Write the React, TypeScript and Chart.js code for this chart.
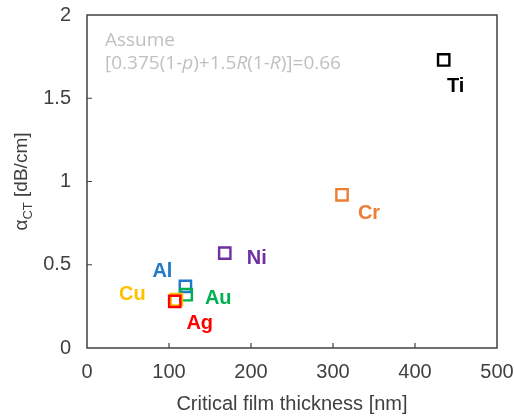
import React, { useEffect, useRef } from "react";
import { Chart, registerables } from "chart.js";

Chart.register(...registerables);

const materials = ["Ti", "Cr", "Ni", "Al", "Au", "Cu", "Ag"];
const thickness = [435, 311, 168, 120, 121, 109, 107];
const alphaCT = [1.73, 0.92, 0.57, 0.37, 0.32, 0.29, 0.28];
const colors = ["#000000", "#ED7D31", "#7030A0", "#1F78C8", "#00B050", "#FFC000", "#FF0000"];
const xTicks = [0, 100, 200, 300, 400, 500];
const yTicks = [0, 0.5, 1, 1.5, 2];
const noteLine1 = "Assume";

// label offsets in pixels relative to each point (style, not data)
const labelOffsets: Record<string, [number, number]> = {
  Ti: [12, 27],
  Cr: [27, 19],
  Ni: [32, 5],
  Al: [-23, -15],
  Au: [32, 4],
  Cu: [-44, -5],
  Ag: [25, 22],
};

const FONT = "'Liberation Sans', Arial, sans-serif";

export default function App() {
  const ref = useRef<HTMLCanvasElement | null>(null);

  useEffect(() => {
    document.body.style.margin = "0";
    const canvas = ref.current!;
    const overlay = {
      id: "overlay",
      afterDraw(chart: any) {
        const ctx = chart.ctx as CanvasRenderingContext2D;
        const xs = chart.scales.x;
        const ys = chart.scales.y;
        const a = chart.chartArea;
        ctx.save();
        // frame
        ctx.strokeStyle = "#404040";
        ctx.lineWidth = 1.5;
        ctx.strokeRect(a.left, a.top, a.right - a.left, a.bottom - a.top);
        // inner ticks
        ctx.lineWidth = 1.2;
        ctx.beginPath();
        xTicks.forEach((v) => {
          if (v === 0 || v === 500) return;
          const px = xs.getPixelForValue(v);
          ctx.moveTo(px, a.bottom);
          ctx.lineTo(px, a.bottom - 5);
        });
        yTicks.forEach((v) => {
          if (v === 0 || v === 2) return;
          const py = ys.getPixelForValue(v);
          ctx.moveTo(a.left, py);
          ctx.lineTo(a.left + 5, py);
        });
        ctx.stroke();
        // point labels
        ctx.font = `bold 20px ${FONT}`;
        ctx.textAlign = "center";
        ctx.textBaseline = "middle";
        materials.forEach((m, i) => {
          const px = xs.getPixelForValue(thickness[i]);
          const py = ys.getPixelForValue(alphaCT[i]);
          const off = labelOffsets[m];
          ctx.fillStyle = colors[i];
          ctx.fillText(m, px + off[0], py + off[1]);
        });
        // note
        ctx.fillStyle = "#C0C0C0";
        ctx.textAlign = "left";
        ctx.textBaseline = "alphabetic";
        const nf = `19px 'Open Sans', ${FONT}`;
        const nfi = `italic 19px 'Open Sans', ${FONT}`;
        const nx = a.left + 18;
        ctx.font = nf;
        ctx.fillText(noteLine1, nx, a.top + 31);
        const parts: [string, boolean][] = [
          ["[0.375(1-", false],
          ["p", true],
          [")+1.5", false],
          ["R", true],
          ["(1-", false],
          ["R", true],
          [")]=0.66", false],
        ];
        let cx = nx;
        const ly = a.top + 54;
        parts.forEach(([t, it]) => {
          ctx.font = it ? nfi : nf;
          ctx.fillText(t, cx, ly);
          cx += ctx.measureText(t).width;
        });
        // y axis title with subscript
        ctx.translate(22, (a.top + a.bottom) / 2);
        ctx.rotate(-Math.PI / 2);
        ctx.fillStyle = "#404040";
        const big = `19px ${FONT}`;
        const small = `13px ${FONT}`;
        ctx.font = big;
        const w1 = ctx.measureText("α").width;
        const w3 = ctx.measureText(" [dB/cm]").width;
        ctx.font = small;
        const w2 = ctx.measureText("CT").width;
        let sx = -(w1 + w2 + w3) / 2;
        ctx.textBaseline = "middle";
        ctx.font = big;
        ctx.fillText("α", sx, 0);
        sx += w1;
        ctx.font = small;
        ctx.fillText("CT", sx, 6);
        sx += w2;
        ctx.font = big;
        ctx.fillText(" [dB/cm]", sx, 0);
        ctx.restore();
      },
    };

    const chart = new Chart(canvas, {
      type: "scatter",
      data: {
        datasets: [
          {
            data: materials.map((_, i) => ({ x: thickness[i], y: alphaCT[i] })),
            pointStyle: "rect",
            pointRadius: 8,
            pointBorderWidth: 2.4,
            pointBackgroundColor: "rgba(0,0,0,0)",
            pointBorderColor: colors,
          } as any,
        ],
      },
      options: {
        animation: false,
        responsive: false,
        devicePixelRatio: 1,
        layout: { autoPadding: false, padding: { top: 15, right: 17, left: 0, bottom: 0 } },
        plugins: { legend: { display: false }, tooltip: { enabled: false } },
        scales: {
          x: {
            type: "linear",
            min: 0,
            max: 500,
            afterBuildTicks: (s: any) => {
              s.ticks = xTicks.map((v) => ({ value: v }));
            },
            afterFit: (s: any) => {
              s.height = 68;
              s.paddingLeft = 0;
              s.paddingRight = 0;
            },
            grid: { display: false, drawTicks: false },
            border: { display: false },
            ticks: {
              color: "#404040",
              font: { family: FONT, size: 20 },
              padding: 12,
              callback: (v: any) => String(v),
            },
            title: {
              display: true,
              text: "Critical film thickness [nm]",
              color: "#404040",
              font: { family: FONT, size: 20 },
              padding: { top: 0, bottom: 0 },
            },
          },
          y: {
            type: "linear",
            min: 0,
            max: 2,
            afterBuildTicks: (s: any) => {
              s.ticks = yTicks.map((v) => ({ value: v }));
            },
            afterFit: (s: any) => {
              s.width = 87;
              s.paddingTop = 0;
              s.paddingBottom = 0;
            },
            grid: { display: false, drawTicks: false },
            border: { display: false },
            ticks: {
              color: "#404040",
              font: { family: FONT, size: 20 },
              padding: 16,
              callback: (v: any) => String(v),
            },
          },
        },
      },
      plugins: [overlay],
    } as any);
    return () => chart.destroy();
  }, []);

  return <canvas ref={ref} width={514} height={416} style={{ display: "block" }} />;
}
